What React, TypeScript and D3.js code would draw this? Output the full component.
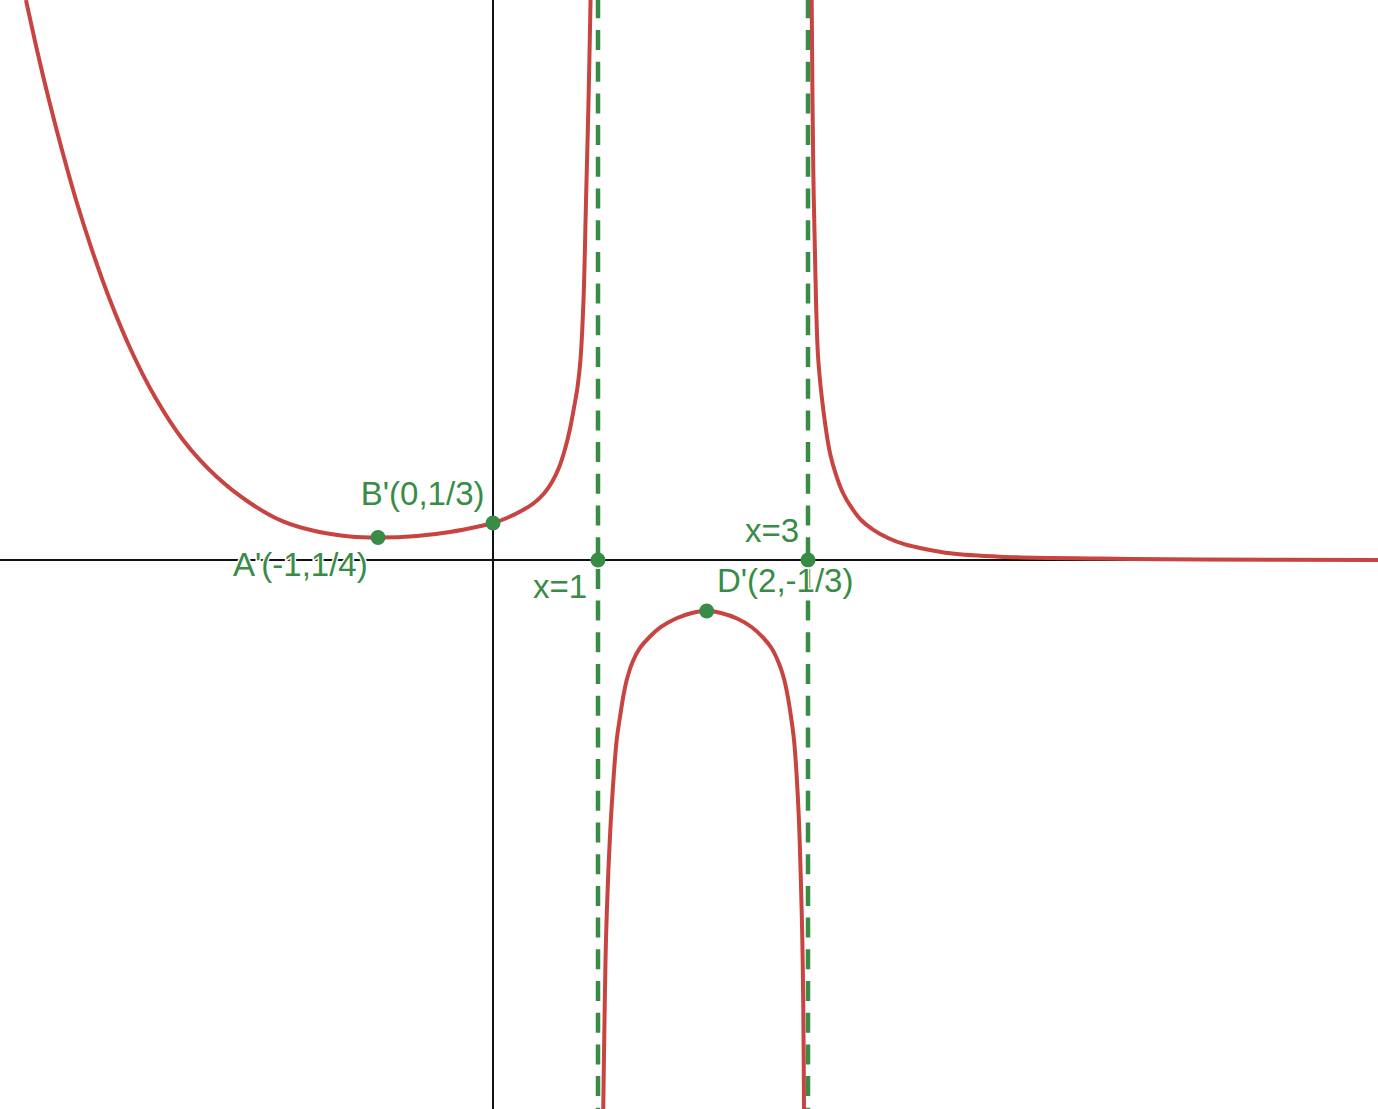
import React from "react";
import * as d3 from "d3";

const W = 1378;
const H = 1109;

// Curve samples (graph units)
const branchLeftX = [-4.448, -4.343, -4.229, -4.105, -3.971, -3.819, -3.648, -3.448, -3.219, -2.952, -2.629, -2.314, -2.0, -1.676, -1.362, -1.095, -0.724, -0.41, -0.095, 0, 0.143, 0.286, 0.39, 0.486, 0.562, 0.629, 0.686, 0.733, 0.771, 0.805, 0.833, 0.862, 0.886, 0.91, 0.929];
const branchLeftY = [5.333, 4.857, 4.381, 3.905, 3.429, 2.952, 2.476, 2.0, 1.552, 1.143, 0.79, 0.543, 0.367, 0.271, 0.224, 0.214, 0.229, 0.267, 0.329, 0.352, 0.405, 0.476, 0.543, 0.633, 0.743, 0.881, 1.057, 1.248, 1.448, 1.648, 1.905, 2.476, 3.429, 4.381, 5.333];

const branchMidX = [1.05, 1.064, 1.076, 1.098, 1.13, 1.178, 1.21, 1.243, 1.281, 1.333, 1.4, 1.486, 1.6, 1.743, 1.895, 2.035, 2.171, 2.324, 2.462, 2.571, 2.652, 2.714, 2.767, 2.805, 2.838, 2.867, 2.908, 2.93, 2.946, 2.955, 2.962];
const branchMidY = [-5.229, -4.254, -3.619, -2.981, -2.35, -1.714, -1.492, -1.286, -1.114, -0.962, -0.838, -0.738, -0.638, -0.557, -0.505, -0.483, -0.505, -0.557, -0.638, -0.738, -0.838, -0.962, -1.114, -1.286, -1.492, -1.714, -2.35, -2.981, -3.619, -4.254, -5.229];

const branchRightX = [3.035, 3.05, 3.076, 3.098, 3.146, 3.21, 3.267, 3.333, 3.41, 3.505, 3.619, 3.762, 3.924, 4.114, 4.352, 4.829, 5.781, 6.733, 8.429];
const branchRightY = [5.333, 3.746, 2.476, 1.905, 1.429, 1.016, 0.81, 0.638, 0.505, 0.381, 0.29, 0.21, 0.148, 0.105, 0.064, 0.031, 0.014, 0.005, 0.0];

const asymptotes = [1, 3];

const pointNames = ["A'", "B'", "P1", "P3", "D'"];
const pointX = [-1.095, 0, 1, 3, 2.035];
const pointY = [0.214, 0.352, 0, 0, -0.486];

const labelTexts = ["B'(0,1/3)", "A'(-1,1/4)", "x=1", "x=3", "D'(2,-1/3)"];
const labelX = [-1.259, -2.476, 0.381, 2.4, 2.133];
const labelY = [0.524, -0.152, -0.365, 0.17, -0.302];

const RED = "#c74440";
const GREEN = "#388c46";

export default function App() {
  const x = d3.scaleLinear().domain([-493 / 105, (W - 493) / 105]).range([0, W]);
  const y = d3.scaleLinear().domain([560 / 105, (560 - H) / 105]).range([0, H]);

  const line = d3
    .line<[number, number]>()
    .x((d) => x(d[0]))
    .y((d) => y(d[1]))
    .curve(d3.curveCatmullRom.alpha(0.5));

  const branches: [number, number][][] = [
    branchLeftX.map((v, i) => [v, branchLeftY[i]] as [number, number]),
    branchMidX.map((v, i) => [v, branchMidY[i]] as [number, number]),
    branchRightX.map((v, i) => [v, branchRightY[i]] as [number, number]),
  ];

  return (
    <svg
      width={W}
      height={H}
      style={{ position: "absolute", left: 0, top: 0, display: "block", background: "#fff" }}
    >
      <rect x={0} y={0} width={W} height={H} fill="#fff" />
      {/* axes */}
      <line x1={0} x2={W} y1={y(0)} y2={y(0)} stroke="#111" strokeWidth={2} />
      <line x1={x(0)} x2={x(0)} y1={0} y2={H} stroke="#111" strokeWidth={2} />
      {/* asymptotes */}
      {asymptotes.map((a) => (
        <line
          key={a}
          x1={x(a)}
          x2={x(a)}
          y1={0}
          y2={H}
          stroke={GREEN}
          strokeWidth={4.5}
          strokeDasharray="20 11.7"
          strokeDashoffset={1.7}
        />
      ))}
      {/* curve */}
      {branches.map((b, i) => (
        <path key={i} d={line(b) || ""} fill="none" stroke={RED} strokeWidth={4} strokeLinejoin="round" />
      ))}
      {/* points */}
      {pointNames.map((n, i) => (
        <circle key={n} cx={x(pointX[i])} cy={y(pointY[i])} r={7.5} fill={GREEN} />
      ))}
      {/* labels */}
      {labelTexts.map((t, i) => (
        <text
          key={t}
          x={x(labelX[i])}
          y={y(labelY[i])}
          fill={GREEN}
          stroke="#fff"
          strokeWidth={3}
          paintOrder="stroke"
          fontFamily="'Liberation Sans', Arial, sans-serif"
          fontSize={33}
        >
          {t}
        </text>
      ))}
    </svg>
  );
}
